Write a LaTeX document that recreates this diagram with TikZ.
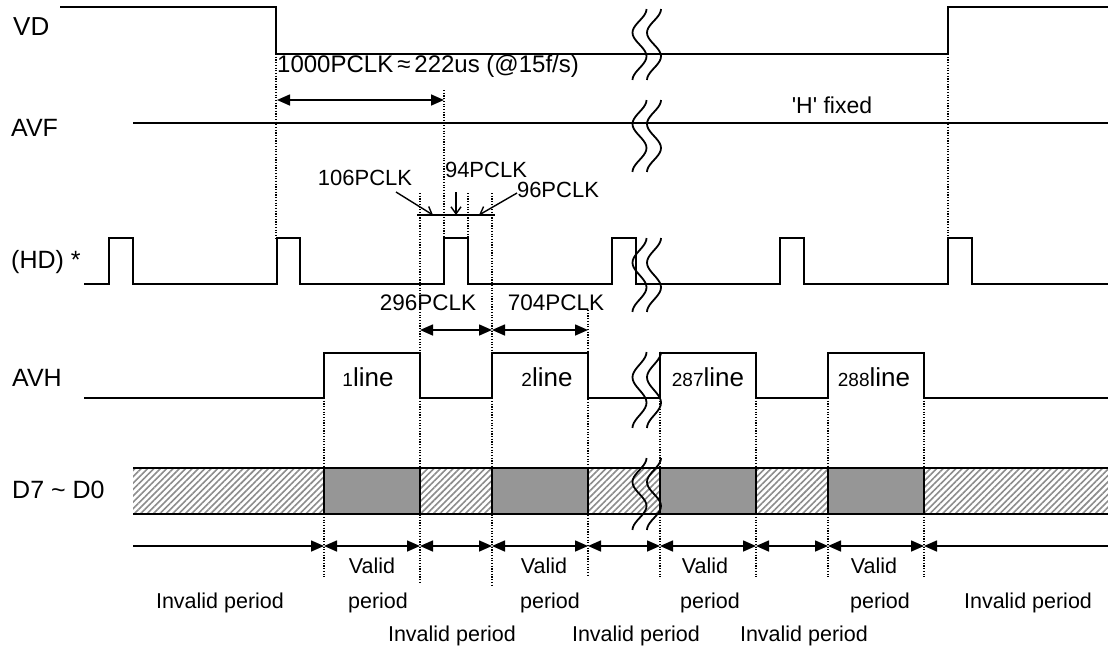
\documentclass[tikz,border=0pt]{standalone}
\usepackage{fontspec}
\setmainfont{Liberation Sans}[Ligatures=TeXOff]
\usetikzlibrary{arrows.meta,patterns.meta}
\newcommand\brkpair[2]{%
  \foreach \cc in {639.5,654}{%
    \draw[brkline] plot[smooth,domain=0:1,samples=31,variable=\t] ({\cc+7*cos(540*\t)},{#1+(#2-#1)*\t});
  }}
\begin{document}
\begin{tikzpicture}[x=1pt,y=-1pt,
  sig/.style={line width=2.2pt, line join=miter},
  dots/.style={line width=1.1pt, dash pattern=on 1.2pt off 1.5pt},
  tri/.tip={Triangle[length=13pt,width=11pt]},
  dim/.style={line width=1.6pt, tri-tri},
  dimr/.style={line width=1.6pt, -tri},
  diml/.style={line width=1.6pt, tri-},
  ptr/.style={line width=1.4pt, -{Straight Barb[length=7pt,width=10pt]}},
  lbl/.style={font=\fontsize{25}{25}\selectfont, anchor=west, inner sep=0pt},
  ann/.style={font=\fontsize{22}{22}\selectfont, inner sep=0pt},
  per/.style={font=\fontsize{21.5}{22}\selectfont, inner sep=0pt},
  brkline/.style={line width=1.8pt},
  hatch/.style={pattern={Lines[angle=45,distance=4.5pt,line width=1.6pt]}, pattern color=black!45},
  valid/.style={fill={rgb,255:red,150;green,150;blue,150}},
]
\useasboundingbox (0,0) rectangle (1108,648);

% ---------- labels ----------
\node[lbl,font=\fontsize{26}{26}\selectfont] (lvd) at (13,27) {VD};
\node[lbl] (lavf) at (11,128) {AVF};
\node[lbl] (lhd) at (11,262) {(HD) *};
\node[lbl] (lavh) at (12,378) {AVH};
\node[lbl] (ld) at (12,490) {D7 \textasciitilde\ D0};

% ---------- dotted guides ----------
\draw[dots] (276,54) -- (276,238);
\draw[dots] (948,54) -- (948,238);
\draw[dots] (444,90) -- (444,238);
\draw[dots] (468,193) -- (468,238);
\draw[dots] (420,193) -- (420,583);
\draw[dots] (492,193) -- (492,586);
\draw[dots] (588,310) -- (588,577);
\draw[dots] (324,398) -- (324,578);
\foreach \xx in {660,756,828,924} \draw[dots] (\xx,398) -- (\xx,577);

% ---------- VD ----------
\draw[sig] (60,7) -- (276,7) -- (276,54) -- (948,54) -- (948,7) -- (1108,7);
\brkpair{9}{80}
\coordinate (k1) at (277,100);
\coordinate (k2) at (444,100);
\draw[dim] (k1) -- (k2);
\node[font=\fontsize{24}{24}\selectfont, anchor=west, inner sep=0pt] (t1000) at (277,66) {1000PCLK\,≈\,222us (@15f/s)};

% ---------- AVF ----------
\draw[sig] (133,123) -- (1108,123);
\brkpair{100}{172}
\node[font=\fontsize{23}{23}\selectfont, inner sep=0pt] (hfix) at (832,105) {'H' fixed};

% ---------- PCLK detail ----------
\coordinate (h1) at (417,215);
\coordinate (h2) at (495,215);
\draw[line width=1.4pt] (h1) -- (h2);
\node[ann] (t106) at (365,178) {106PCLK};
\node[ann] (t94) at (486,170) {94PCLK};
\node[ann] (t96) at (558,190) {96PCLK};
\coordinate (p106) at (433,215);
\coordinate (p94) at (456,215);
\coordinate (p96) at (479,215);
\draw[ptr] (396,192) -- (p106);
\draw[ptr] (456,192) -- (p94);
\draw[ptr] (517,193) -- (p96);

% ---------- HD ----------
\draw[sig] (84,284) -- (109,284) -- (109,238) -- (133,238) -- (133,284)
  -- (277,284) -- (277,238) -- (300,238) -- (300,284)
  -- (444,284) -- (444,238) -- (468,238) -- (468,284)
  -- (612,284) -- (612,238) -- (636,238) -- (636,284)
  -- (780,284) -- (780,238) -- (804,238) -- (804,284)
  -- (948,284) -- (948,238) -- (972,238) -- (972,284) -- (1108,284);
\brkpair{238}{312}

\node[font=\fontsize{22.5}{23}\selectfont, inner sep=0pt] (t296) at (428,303) {296PCLK};
\node[font=\fontsize{22.5}{23}\selectfont, inner sep=0pt] (t704) at (556,303) {704PCLK};
\coordinate (m1) at (420,330);
\coordinate (m2) at (492,330);
\coordinate (m3) at (588,330);
\draw[dim] (m1) -- (m2);
\draw[dim] (m2) -- (m3);

% ---------- AVH ----------
\draw[sig] (84,398) -- (324,398) -- (324,353) -- (420,353) -- (420,398)
  -- (492,398) -- (492,353) -- (588,353) -- (588,398)
  -- (660,398) -- (660,353) -- (756,353) -- (756,398)
  -- (828,398) -- (828,353) -- (924,353) -- (924,398) -- (1108,398);
\brkpair{352}{428}
\node[anchor=base, inner sep=0pt] (ln1) at (368,386) {\fontsize{19}{19}\selectfont 1\fontsize{26}{26}\selectfont line};
\node[anchor=base, inner sep=0pt] (ln2) at (547,386) {\fontsize{19}{19}\selectfont 2\fontsize{26}{26}\selectfont line};
\node[anchor=base, inner sep=0pt] (ln287) at (708,386) {\fontsize{19}{19}\selectfont 287\fontsize{26}{26}\selectfont line};
\node[anchor=base, inner sep=0pt] (ln288) at (874,386) {\fontsize{19}{19}\selectfont 288\fontsize{26}{26}\selectfont line};

% ---------- D7~D0 ----------
\foreach \a/\b in {133/324,420/492,588/660,756/828,924/1108}
  \path[hatch] (\a,468) rectangle (\b,514);
\foreach \a/\b in {324/420,492/588,660/756,828/924}
  \path[valid] (\a,468) rectangle (\b,514);
\draw[sig] (133,468) -- (1108,468);
\draw[sig] (133,514) -- (1108,514);
\foreach \xx in {324,420,492,588,660,756,828,924} \draw[sig] (\xx,468) -- (\xx,514);
\brkpair{458}{530}

% ---------- period arrows ----------
\coordinate (b0) at (133,546);
\coordinate (b1) at (324,546);
\coordinate (b2) at (420,546);
\coordinate (b3) at (492,546);
\coordinate (b4) at (588,546);
\coordinate (b5) at (660,546);
\coordinate (b6) at (756,546);
\coordinate (b7) at (828,546);
\coordinate (b8) at (924,546);
\coordinate (b9) at (1108,546);
\draw[dimr] (b0) -- (b1);
\draw[dim] (b1) -- (b2);
\draw[dim] (b2) -- (b3);
\draw[dim] (b3) -- (b4);
\draw[dim] (b4) -- (b5);
\draw[dim] (b5) -- (b6);
\draw[dim] (b6) -- (b7);
\draw[dim] (b7) -- (b8);
\draw[diml] (b8) -- (b9);

\node[per] (inv0) at (220,603) {Invalid period};
\node[per] (inv9) at (1028,603) {Invalid period};
\node[per] (va1) at (372,566) {Valid};
\node[per] (vb1) at (378,603) {period};
\node[per] (va2) at (544,566) {Valid};
\node[per] (vb2) at (550,603) {period};
\node[per] (va3) at (705,566) {Valid};
\node[per] (vb3) at (710,603) {period};
\node[per] (va4) at (874,566) {Valid};
\node[per] (vb4) at (880,603) {period};
\node[per] (inv2) at (452,636) {Invalid period};
\node[per] (inv4) at (636,636) {Invalid period};
\node[per] (inv6) at (804,636) {Invalid period};
\end{tikzpicture}
\end{document}
